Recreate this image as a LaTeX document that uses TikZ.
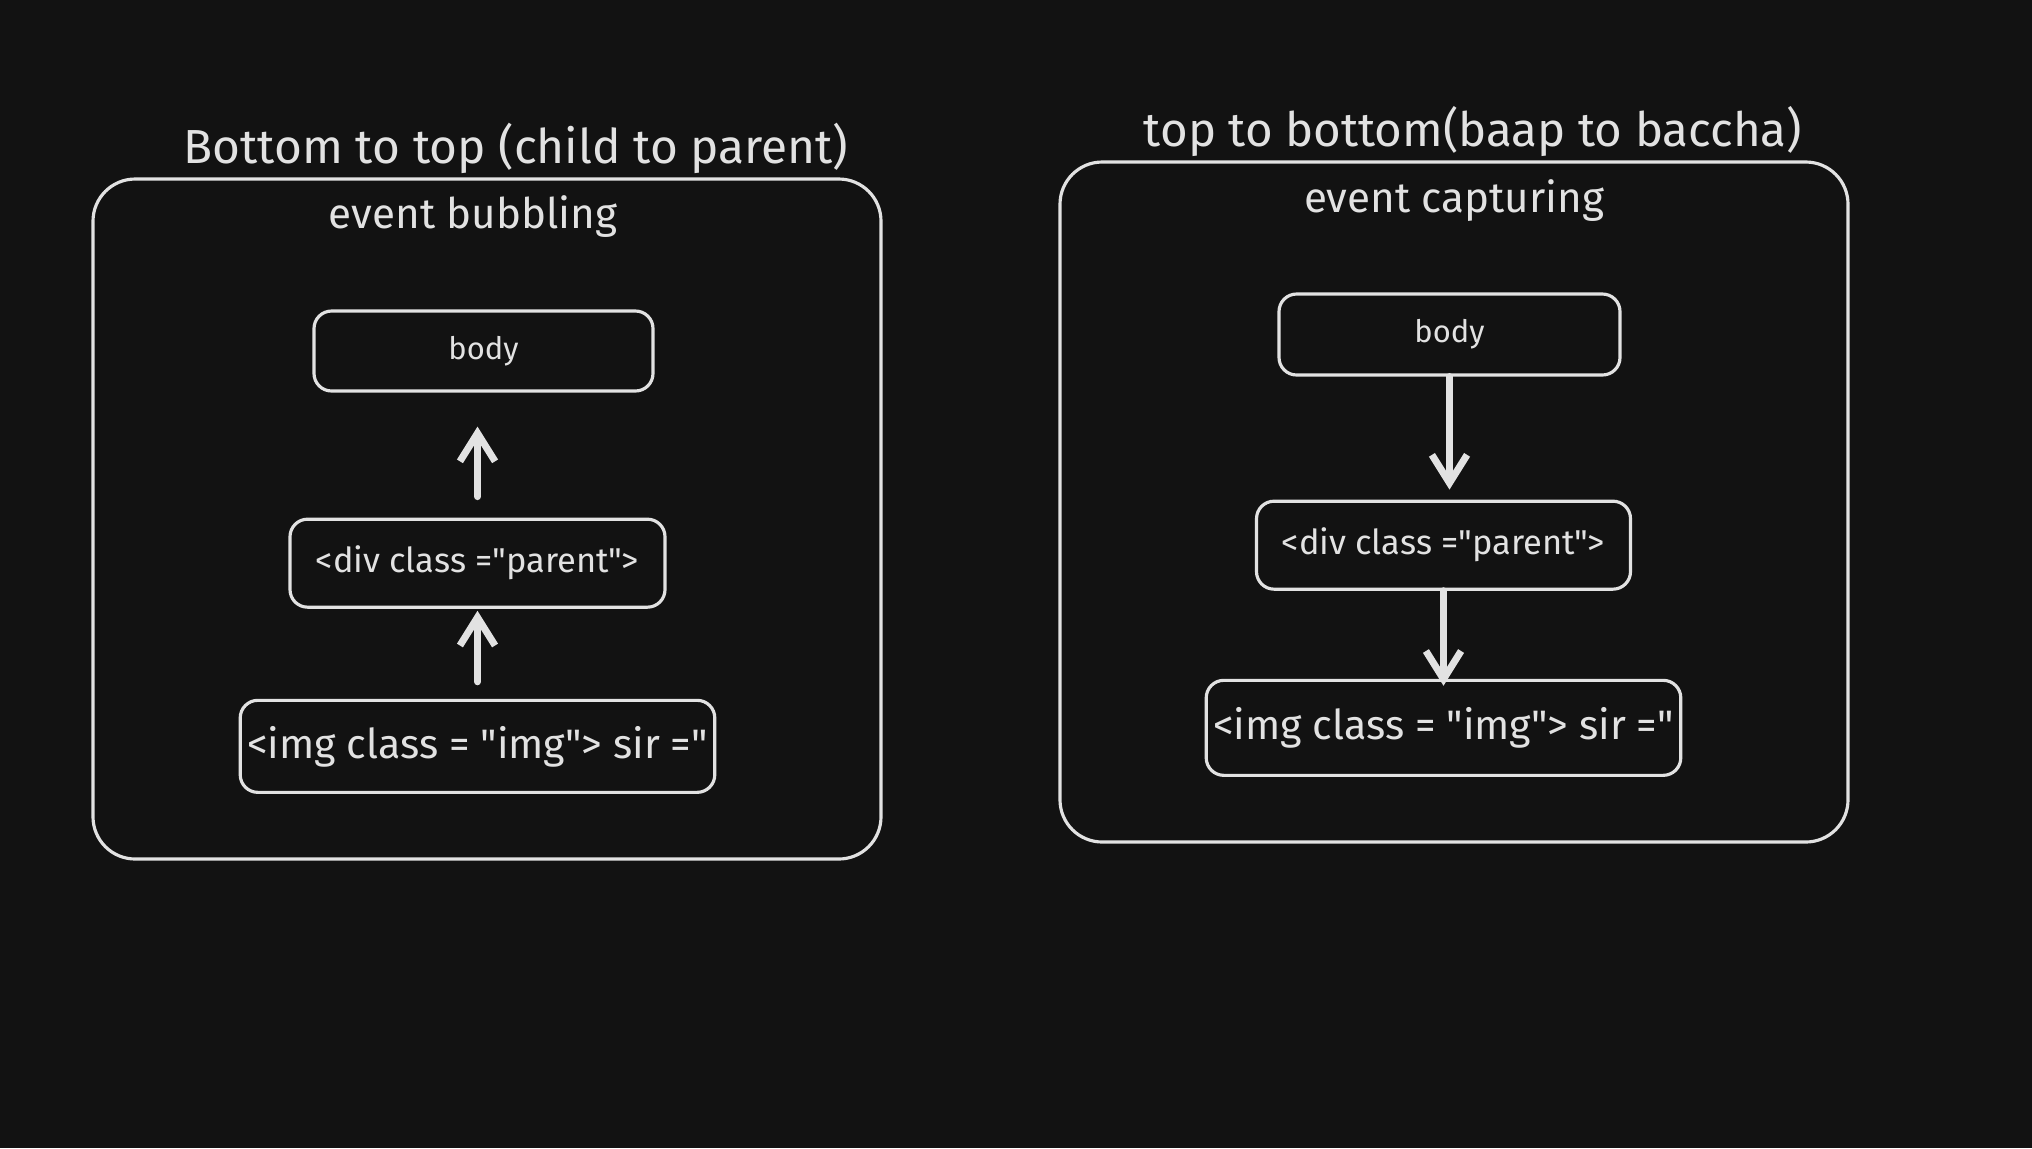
\documentclass[tikz,border=0pt]{standalone}
\usepackage{fontspec}
\setmainfont{Fira Sans}[Ligatures=TeXOff]
\usepackage{xcolor}
\usepackage{tikz}
\usetikzlibrary{arrows.meta}
\usetikzlibrary{positioning}
\definecolor{bg}{HTML}{121212}
\definecolor{ink}{HTML}{E2E2E2}
\tikzset{
>={Straight Barb[length=8pt, width=10pt]}, % open arrow heads
node distance=1.25cm, % gap between the stacked tags
every node/.style={text=ink, font=\fontsize{11}{13}\selectfont}, % light text on dark ground
frame/.style={draw=ink, line width=0.9pt, rounded corners=12pt, minimum width=7.88cm, minimum height=6.8cm}, % the two big boxes
tag/.style={draw=ink, line width=0.9pt, rounded corners=5pt, inner xsep=2pt}, % the html element boxes
flow/.style={->, draw=ink, line width=2pt, line cap=round}, % thick event arrows
}

\begin{document}
\begin{tikzpicture}
            \fill[bg] (0,0) rectangle (20.32,-11.48);
            \useasboundingbox (0,0) rectangle (20.32,-11.48);

            % left: bubbling
            \node[frame] (boxL) at (4.87,-5.19) {};
            \node[font=\fontsize{13.6}{16}\selectfont] (titleL) at (5.16,-1.48) {Bottom to top (child to parent)};
            \node[font=\fontsize{12}{14}\selectfont] (nameL) at (4.73,-2.17) {event bubbling};
            \node[tag, minimum width=3.39cm, minimum height=0.8cm, font=\fontsize{8.8}{10}\selectfont] (bodyL) at (4.835,-3.51) {body};
            \node[tag, minimum width=3.75cm, minimum height=0.88cm, below=1.25cm of bodyL, xshift=-0.06cm, font=\fontsize{9.8}{12}\selectfont] (divL) {<div class ="parent">};
            \node[tag, minimum width=4.73cm, minimum height=0.92cm, below=0.9cm of divL, font=\fontsize{11.7}{14}\selectfont] (imgL) {<img class = "img"> sir ="};

            % right: capturing
            \node[frame] (boxR) at (14.54,-5.02) {};
            \node[font=\fontsize{13.5}{16}\selectfont] (titleR) at (14.73,-1.31) {top to bottom(baap to baccha)};
            \node[font=\fontsize{12}{14}\selectfont] (nameR) at (14.54,-2.01) {event capturing};
            \node[tag, minimum width=3.41cm, minimum height=0.81cm, font=\fontsize{8.8}{10}\selectfont] (bodyR) at (14.495,-3.345) {body};
            \node[tag, minimum width=3.74cm, minimum height=0.88cm, below=1.23cm of bodyR, xshift=-0.06cm, font=\fontsize{9.8}{12}\selectfont] (divR) {<div class ="parent">};
            \node[tag, minimum width=4.74cm, minimum height=0.95cm, below=0.88cm of divR, font=\fontsize{11.7}{14}\selectfont] (imgR) {<img class = "img"> sir ="};

            \draw[flow, shorten <=0.21cm, shorten >=0.34cm] (divL.north) -- (bodyL.south -| divL.north);
            \draw[flow, shorten <=0.17cm, shorten >=0.02cm] (imgL.north -| divL.south) -- (divL.south);
            \draw[flow, shorten >=0.1cm] (bodyR.south) -- (divR.north -| bodyR.south);
            \draw[flow, shorten >=-0.07cm] (divR.south) -- (imgR.north -| divR.south);
        \end{tikzpicture}
\end{document}
